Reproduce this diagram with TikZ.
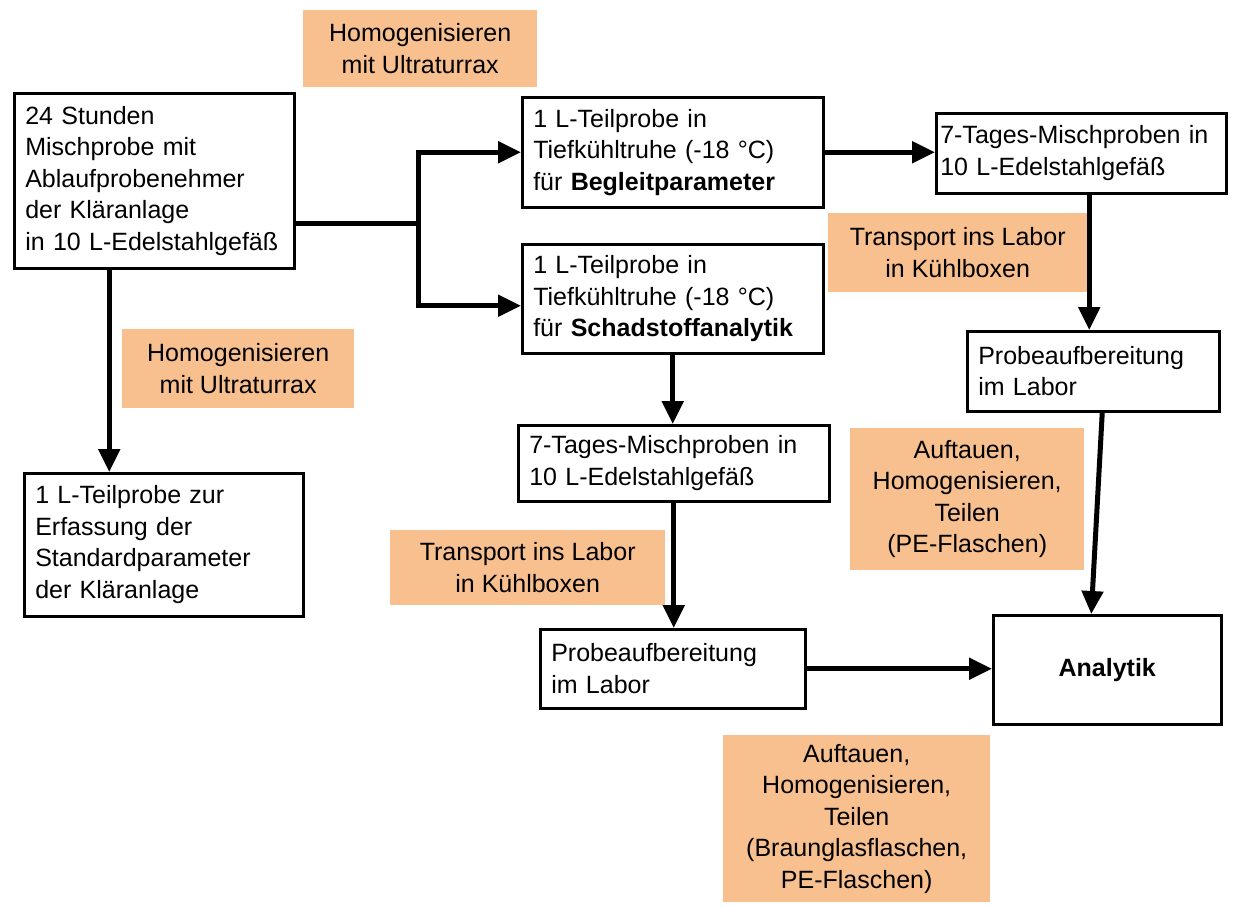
\documentclass[tikz,border=0pt]{standalone}
\usepackage{fontspec}
\setmainfont{Liberation Sans}
\usetikzlibrary{arrows.meta,calc}
\definecolor{orangefill}{RGB}{249,192,143}
\begin{document}
\begin{tikzpicture}[x=1pt,y=-1pt,
  every node/.style={font=\fontsize{25}{31.5}\selectfont},
  box/.style={draw, line width=2.5pt, fill=white, anchor=north west, align=left, inner xsep=11pt, inner ysep=0pt},
  note/.style={fill=orangefill, anchor=north west, align=center, inner sep=0pt},
  conn/.style={line width=5pt},
  arr/.style={line width=5pt, -{Triangle[length=23pt,width=21pt]}}
]
\useasboundingbox (0,0) rectangle (1246,906);

% orange notes
\node[note, minimum width=234pt, minimum height=77pt] (n1) at (303,10) {Homogenisieren\\mit Ultraturrax};
\node[note, minimum width=232pt, minimum height=79pt] (n2) at (122,329) {Homogenisieren\\mit Ultraturrax};
\node[note, minimum width=259pt, minimum height=79pt] (n3) at (828,213) {Transport ins Labor\\in Kühlboxen};
\node[note, minimum width=275pt, minimum height=75pt] (n4) at (390,530) {Transport ins Labor\\in Kühlboxen};
\node[note, minimum width=234pt, minimum height=142pt] (n5) at (850,428) {Auftauen,\\Homogenisieren,\\Teilen\\(PE-Flaschen)};
\node[note, minimum width=267pt, minimum height=167pt] (n6) at (723,735) {Auftauen,\\Homogenisieren,\\Teilen\\(Braunglasflaschen,\\PE-Flaschen)};

% boxes
\node[box, text width=258pt, minimum height=175pt] (b1) at (13,92) {24 Stunden\\Mischprobe mit\\Ablaufprobenehmer\\der Kläranlage\\in 10 L-Edelstahlgefäß};
\node[box, text width=279pt, minimum height=110pt] (bB) at (521,96) {1 L-Teilprobe in\\Tiefkühltruhe (-18 °C)\\für \textbf{Begleitparameter}};
\node[box, text width=279pt, minimum height=109pt] (bS) at (521,243) {1 L-Teilprobe in\\Tiefkühltruhe (-18 °C)\\für \textbf{Schadstoffanalytik}};
\node[box, text width=282pt, minimum height=80pt, inner xsep=4pt] (b7r) at (935,112) {7-Tages-Mischproben in\\10 L-Edelstahlgefäß};
\node[box, text width=230pt, minimum height=80pt] (p2) at (966,330) {Probeaufbereitung\\im Labor};
\node[box, text width=206pt, minimum height=109pt, align=center] (A) at (992,614) {\textbf{Analytik}};
\node[box, text width=289pt, minimum height=76pt] (m7) at (517,424) {7-Tages-Mischproben in\\10 L-Edelstahlgefäß};
\node[box, text width=243pt, minimum height=79pt] (p1) at (539,628) {Probeaufbereitung\\im Labor};
\node[box, text width=257pt, minimum height=143pt] (lb) at (23,472) {1 L-Teilprobe zur\\Erfassung der\\Standardparameter\\der Kläranlage};

% connectors
\coordinate (j) at (418,223);
\draw[conn] (b1.east |- j) -- (j);
\draw[arr] (j) |- (bB.west);
\draw[arr] (j) |- ([yshift=-7pt]bS.west);
\draw[arr] (bB.east) -- (bB.east -| b7r.west);
\draw[arr] ([xshift=8pt]b7r.south) -- ([xshift=8pt]b7r.south |- p2.north);
\draw[arr] ([xshift=9pt]p2.south) -- ([xshift=-16pt]A.north);
\draw[arr] (bS.south) -- (bS.south |- m7.north);
\draw[arr] (m7.south) -- (m7.south |- p1.north);
\draw[arr] (p1.east) -- (p1.east -| A.west);
\draw[arr] ([xshift=-45pt]b1.south) -- ([xshift=-45pt]b1.south |- lb.north);
\end{tikzpicture}
\end{document}
